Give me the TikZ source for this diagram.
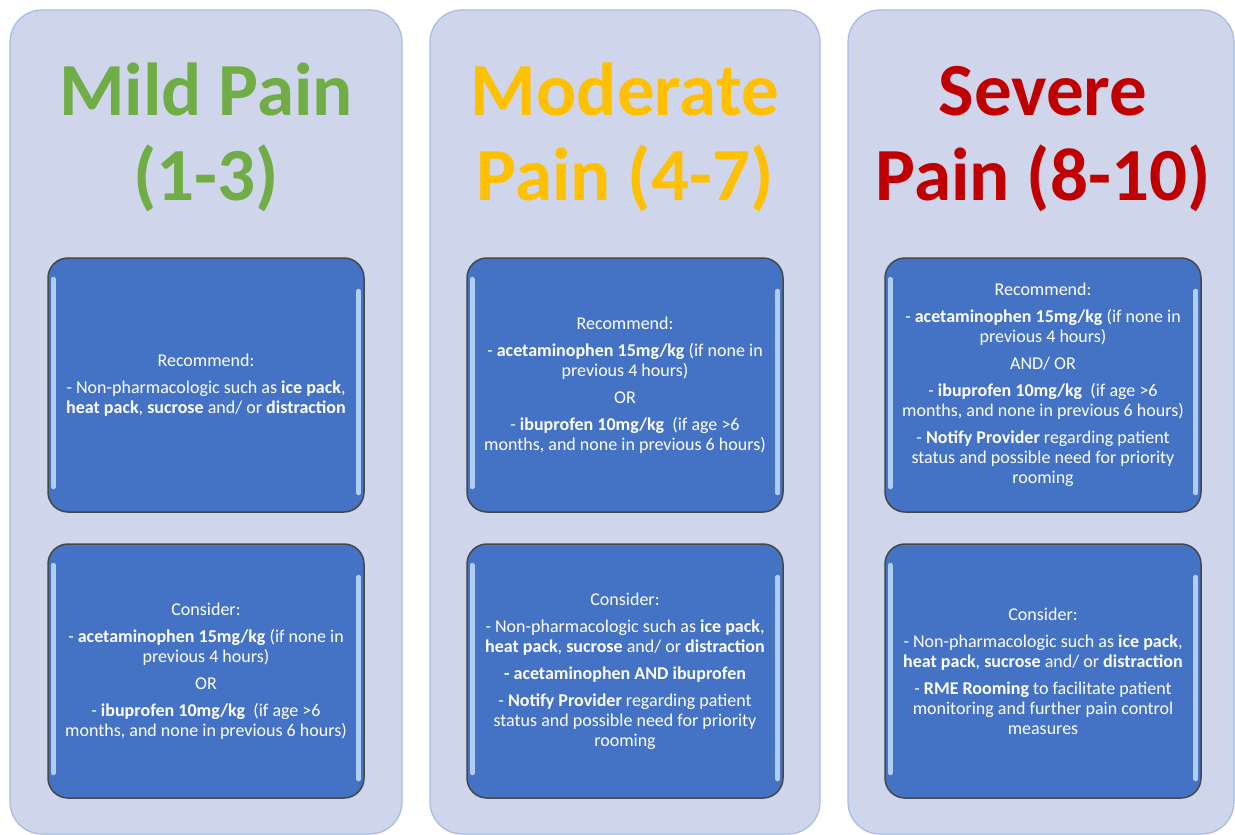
\documentclass[tikz,border=0pt]{standalone}
\usepackage{fontspec}
\setmainfont{Carlito}
\definecolor{panelfill}{HTML}{CFD5EA}
\definecolor{paneledge}{HTML}{A4BBE6}
\definecolor{boxblue}{HTML}{4472C4}
\definecolor{shine}{HTML}{BCD8F7}
\definecolor{mildgreen}{HTML}{70AD47}
\definecolor{modgold}{HTML}{FFC000}
\definecolor{sevred}{HTML}{C00000}

\begin{document}
\begin{tikzpicture}[x=1pt,y=-1pt,
  panel/.style={fill=panelfill,draw=paneledge,line width=1.2pt,rounded corners=32pt},
  title/.style={anchor=base,font=\fontsize{75}{85}\selectfont\bfseries},
  card/.style={draw=black!72,line width=1.5pt,fill=boxblue,rounded corners=20pt,
    minimum width=316pt,minimum height=254pt,inner sep=0pt,align=center,
    text=white,font=\fontsize{18}{20}\selectfont},
  gloss/.style={draw=shine,line width=5pt,line cap=round,opacity=0.9}]
\useasboundingbox (0,0) rectangle (1235,835);

% columns
\draw[panel] (10,10) rectangle (402,834);
\draw[panel] (430,10) rectangle (820,834);
\draw[panel] (848,10) rectangle (1234,834);

% titles
\node[title,text=mildgreen] (mildA) at (206,115) {Mild Pain};
\node[title,text=mildgreen] (mildB) at (206,200) {(1-3)};
\node[title,text=modgold] (modA) at (625,115) {Moderate};
\node[title,text=modgold] (modB) at (625,200) {Pain (4-7)};
\node[title,text=sevred] (sevA) at (1043,115) {Severe};
\node[title,text=sevred] (sevB) at (1043,200) {Pain (8-10)};

% mild
\node[card] (m1) at (206,385) {Recommend:\\[7pt]
- Non-pharmacologic such as \textbf{ice pack},\\
\textbf{heat pack}, \textbf{sucrose} and/ or \textbf{distraction}};
\node[card] (m2) at (206,671) {Consider:\\[7pt]
- \textbf{acetaminophen 15mg/kg} (if none in\\
previous 4 hours)\\[7pt]
OR\\[7pt]
- \textbf{ibuprofen 10mg/kg}\ \ (if age >6\\
months, and none in previous 6 hours)};

% moderate
\node[card] (o1) at (625,385) {Recommend:\\[7pt]
- \textbf{acetaminophen 15mg/kg} (if none in\\
previous 4 hours)\\[7pt]
OR\\[7pt]
- \textbf{ibuprofen 10mg/kg}\ \ (if age >6\\
months, and none in previous 6 hours)};
\node[card] (o2) at (625,671) {Consider:\\[7pt]
- Non-pharmacologic such as \textbf{ice pack},\\
\textbf{heat pack}, \textbf{sucrose} and/ or \textbf{distraction}\\[7pt]
\textbf{- acetaminophen AND ibuprofen}\\[7pt]
- \textbf{Notify Provider} regarding patient\\
status and possible need for priority\\
rooming};

% severe
\node[card] (s1) at (1043,385) {Recommend:\\[7pt]
- \textbf{acetaminophen 15mg/kg} (if none in\\
previous 4 hours)\\[7pt]
AND/ OR\\[7pt]
- \textbf{ibuprofen 10mg/kg}\ \ (if age >6\\
months, and none in previous 6 hours)\\[7pt]
- \textbf{Notify Provider} regarding patient\\
status and possible need for priority\\
rooming};
\node[card] (s2) at (1043,671) {Consider:\\[7pt]
- Non-pharmacologic such as \textbf{ice pack},\\
\textbf{heat pack}, \textbf{sucrose} and/ or \textbf{distraction}\\[7pt]
- \textbf{RME Rooming} to facilitate patient\\
monitoring and further pain control\\
measures};

% shine on the card edges
\foreach \b in {m1,m2,o1,o2,s1,s2} {
  \draw[gloss] ([xshift=6pt,yshift=-22pt]\b.north west) -- ([xshift=6pt,yshift=26pt]\b.south west);
  \draw[gloss] ([xshift=-6pt,yshift=-34pt]\b.north east) -- ([xshift=-6pt,yshift=20pt]\b.south east);
}
\end{tikzpicture}
\end{document}
